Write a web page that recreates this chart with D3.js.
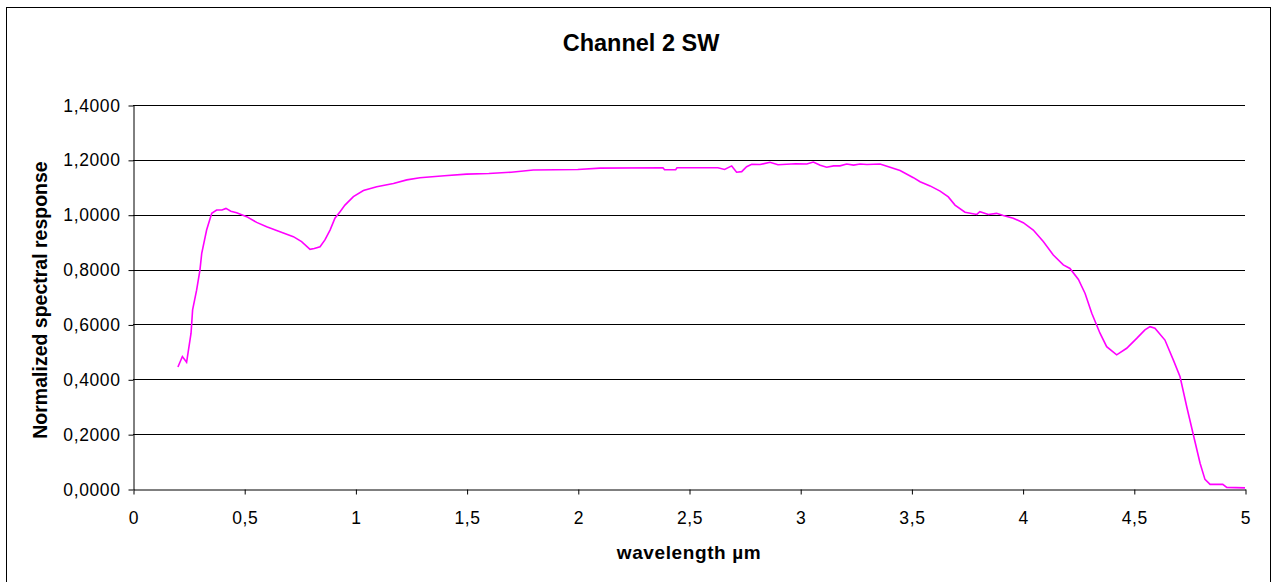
<!DOCTYPE html>
<html lang="en">
<head>
  <meta charset="UTF-8">
  <title>Channel 2 SW</title>
  <script src="https://d3js.org/d3.v7.min.js"></script>
  <style>
    body { margin: 0; background: #fff; }
    text { font-family: "Liberation Sans", Arial, sans-serif; }
  </style>
</head>
<body>
  <svg id="chart" width="1273" height="582"></svg>
  <script>
    // wavelength (µm) and normalized response
    const wavelength = [0.202, 0.222, 0.241, 0.261, 0.268, 0.286, 0.301, 0.309, 0.331, 0.354,
      0.376, 0.400, 0.418, 0.440, 0.466, 0.511, 0.556, 0.601, 0.661, 0.721,
      0.758, 0.796, 0.815, 0.841, 0.863, 0.886, 0.908, 0.931, 0.953, 0.991,
      1.036, 1.096, 1.171, 1.231, 1.290, 1.400, 1.500, 1.600, 1.700, 1.800,
      2.000, 2.100, 2.383, 2.390, 2.440, 2.446, 2.630, 2.660, 2.692, 2.714,
      2.737, 2.759, 2.782, 2.820, 2.864, 2.900, 2.939, 2.980, 3.030, 3.059,
      3.090, 3.119, 3.150, 3.179, 3.209, 3.240, 3.269, 3.300, 3.359, 3.404,
      3.449, 3.509, 3.539, 3.584, 3.629, 3.666, 3.696, 3.741, 3.794, 3.808,
      3.846, 3.883, 3.913, 3.958, 4.003, 4.048, 4.093, 4.138, 4.183, 4.213,
      4.251, 4.281, 4.311, 4.348, 4.378, 4.423, 4.468, 4.513, 4.550, 4.573,
      4.595, 4.640, 4.678, 4.708, 4.738, 4.768, 4.798, 4.820, 4.843, 4.900,
      4.918, 5.000];
    const response = [0.445, 0.483, 0.462, 0.568, 0.653, 0.725, 0.798, 0.859, 0.944, 1.005,
      1.017, 1.017, 1.023, 1.013, 1.007, 0.993, 0.972, 0.956, 0.938, 0.920,
      0.902, 0.874, 0.877, 0.883, 0.908, 0.944, 0.987, 1.011, 1.035, 1.066,
      1.088, 1.102, 1.114, 1.127, 1.135, 1.142, 1.148, 1.150, 1.155, 1.163,
      1.165, 1.170, 1.171, 1.164, 1.164, 1.171, 1.171, 1.165, 1.178, 1.155,
      1.157, 1.175, 1.184, 1.183, 1.191, 1.182, 1.184, 1.186, 1.185, 1.192,
      1.180, 1.173, 1.178, 1.178, 1.185, 1.181, 1.185, 1.183, 1.185, 1.173,
      1.161, 1.135, 1.120, 1.105, 1.086, 1.065, 1.035, 1.009, 1.001, 1.011,
      1.001, 1.005, 0.997, 0.987, 0.971, 0.944, 0.902, 0.853, 0.817, 0.804,
      0.764, 0.713, 0.641, 0.568, 0.519, 0.489, 0.513, 0.549, 0.580, 0.592,
      0.586, 0.543, 0.470, 0.409, 0.300, 0.197, 0.094, 0.035, 0.017, 0.017,
      0.006, 0.004];
    const xTicks = [0, 0.5, 1, 1.5, 2, 2.5, 3, 3.5, 4, 4.5, 5];
    const yTicks = [0, 0.2, 0.4, 0.6, 0.8, 1.0, 1.2, 1.4];

    const svg = d3.select("#chart");
    const margin = { top: 105, right: 28, bottom: 93, left: 133 };
    const W = +svg.attr("width"), H = +svg.attr("height");

    // outer frame
    svg.append("rect")
      .attr("x", 6.5).attr("y", 7.5)
      .attr("width", 1264).attr("height", 600)
      .attr("fill", "none").attr("stroke", "#000").attr("stroke-width", 1);

    const x = d3.scaleLinear().domain([0, 5]).range([margin.left, W - margin.right]);
    const y = d3.scaleLinear().domain([0, 1.4]).range([H - margin.bottom, margin.top]);

    // gridlines
    svg.append("g").selectAll("line")
      .data(yTicks.filter(d => d > 0))
      .join("line")
      .attr("x1", x(0)).attr("x2", x(5))
      .attr("y1", d => Math.round(y(d)) + 0.5).attr("y2", d => Math.round(y(d)) + 0.5)
      .attr("stroke", "#000").attr("stroke-width", 1);

    const fmtY = d => d.toFixed(4).replace(".", ",");
    const fmtX = d => String(d).replace(".", ",");

    const yAxis = svg.append("g")
      .attr("transform", `translate(${x(0) + 0.5},0.5)`)
      .call(d3.axisLeft(y).tickValues(yTicks).tickFormat(fmtY).tickSize(5).tickSizeOuter(0).tickPadding(8));
    const xAxis = svg.append("g")
      .attr("transform", `translate(0.5,${y(0) + 0.5})`)
      .call(d3.axisBottom(x).tickValues(xTicks).tickFormat(fmtX).tickSize(5).tickSizeOuter(0).tickPadding(17));

    [yAxis, xAxis].forEach(g => {
      g.selectAll("text").attr("font-size", 17.5).attr("fill", "#000")
        .attr("letter-spacing", 0.6)
        .attr("font-family", "'Liberation Sans', Arial, sans-serif");
      g.selectAll("line, path").attr("stroke", "#000");
    });

    // data line
    const pts = wavelength.map((w, i) => [w, response[i]]);
    svg.append("path")
      .datum(pts)
      .attr("fill", "none")
      .attr("stroke", "#ff00ff")
      .attr("stroke-width", 1.6)
      .attr("d", d3.line().x(d => x(d[0])).y(d => y(d[1])));

    // title and axis titles
    svg.append("text")
      .attr("x", 641).attr("y", 51)
      .attr("text-anchor", "middle")
      .attr("font-size", 23.5).attr("font-weight", "bold")
      .text("Channel 2 SW");

    svg.append("text")
      .attr("x", (x(0) + x(5)) / 2).attr("y", 559)
      .attr("text-anchor", "middle")
      .attr("font-size", 19).attr("font-weight", "bold")
      .attr("letter-spacing", 0.6)
      .text("wavelength µm");

    svg.append("text")
      .attr("transform", `translate(46.5,300) rotate(-90)`)
      .attr("text-anchor", "middle")
      .attr("font-size", 19.5).attr("font-weight", "bold")
      .text("Normalized spectral response");
  </script>
</body>
</html>
